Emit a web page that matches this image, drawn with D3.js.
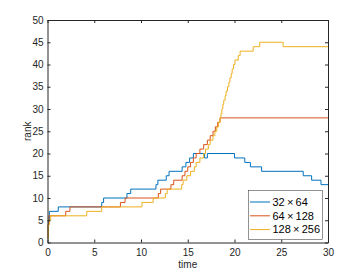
<!DOCTYPE html>
<html>
<head>
<meta charset="utf-8">
<script src="https://cdn.jsdelivr.net/npm/d3@7"></script>
<style>
  body { margin: 0; background: #fff; }
  svg { display: block; font-family: "Liberation Sans", Arial, sans-serif; }
</style>
</head>
<body>
<div id="chart"></div>
<script>
// step points [time, rank]
let blue32 = [[0,1],[0.1,5],[0.2,7],[1.15,8],[5.8,9],[6.0,10],[8.5,11],[8.9,12],[11.6,13],[11.8,14],[12.7,15],[13.0,16],
  [14.4,17],[14.8,18],[15.2,19],[15.6,20],[16.8,19],[17.1,20],[20.0,19],[21.1,18],[21.7,17],[22.9,16],[27.35,15],
  [28.25,14],[29.25,13],[30,13]];
let red64 = [[0,1],[0.05,4],[0.15,6],[1.95,7],[2.4,8],[7.8,9],[8.3,10],[11.85,11],[12.1,12],[13.2,13],[13.5,14],
  [14.4,15],[14.7,16],[15.0,17],[15.3,18],[15.6,19],[15.9,20],[16.3,21],[16.7,22],[17.1,23],[17.4,24],[17.7,25],
  [17.95,26],[18.2,27],[18.45,28],[30,28]];
let yellow128 = [[0,1],[0.1,4],[0.2,5],[0.35,6],[4.2,7],[5.8,8],[10.1,9],[11.3,10],[12.6,11],[12.8,12],[14.35,13],
  [14.5,14],[14.9,15],[15.3,16],[15.7,17],[15.9,18],[16.3,19],[16.7,20],[16.9,21],[17.2,22],[17.4,23],[17.7,24],
  [17.9,25],[18.1,26],[18.3,27],[18.45,28],[18.55,29],[18.65,30],[18.75,31],[18.85,32],[19.0,33],[19.1,34],
  [19.25,35],[19.4,36],[19.5,37],[19.65,38],[19.75,39],[19.9,40],[20.05,41],[20.4,42],[20.6,43],[22.0,44],
  [22.7,45],[25.2,44],[30,44]];
let seriesNames = ['32\u2009\u00d7\u200964', '64\u2009\u00d7\u2009128', '128\u2009\u00d7\u2009256'];
let seriesColors = ['#0072BD', '#D95319', '#EDB120'];
let xTicks = [0, 5, 10, 15, 20, 25, 30];
let yTicks = [0, 5, 10, 15, 20, 25, 30, 35, 40, 45, 50];

let width = 363, height = 273;
let margin = {top: 20, right: 35, bottom: 30.5, left: 47.5};
let axisColor = '#262626';

let svg = d3.select('#chart').append('svg')
  .attr('width', width)
  .attr('height', height);

let xScale = d3.scaleLinear().domain([0, 30]).range([margin.left, width - margin.right]);
let yScale = d3.scaleLinear().domain([0, 50]).range([height - margin.bottom, margin.top]);

// lines
let line = d3.line()
  .x(d => xScale(d[0]))
  .y(d => yScale(d[1]))
  .curve(d3.curveStepAfter);

let allSeries = [blue32, red64, yellow128];
allSeries.forEach(function(s, i) {
  svg.append('path')
    .datum(s)
    .attr('fill', 'none')
    .attr('stroke', seriesColors[i])
    .attr('stroke-width', 1)
    .attr('d', line);
});

// axes, ticks inward on all four sides (box on)
let x0 = xScale(0), x1 = xScale(30), y0 = yScale(0), y1 = yScale(50);
svg.append('g').attr('transform', `translate(0,${y0})`)
  .call(d3.axisBottom(xScale).tickValues(xTicks).tickSizeInner(-3).tickSizeOuter(0).tickPadding(6))
  .call(g => g.select('.domain').attr('stroke', axisColor))
  .call(g => g.selectAll('line').attr('stroke', axisColor))
  .call(g => g.selectAll('text').attr('fill', axisColor).attr('font-size', 10));
svg.append('g').attr('transform', `translate(${x0},0)`)
  .call(d3.axisLeft(yScale).tickValues(yTicks).tickSizeInner(-3).tickSizeOuter(0).tickPadding(4))
  .call(g => g.select('.domain').attr('stroke', axisColor))
  .call(g => g.selectAll('line').attr('stroke', axisColor))
  .call(g => g.selectAll('text').attr('fill', axisColor).attr('font-size', 10));
svg.append('g').attr('transform', `translate(0,${y1})`)
  .call(d3.axisTop(xScale).tickValues(xTicks).tickSizeInner(-3).tickSizeOuter(0).tickFormat(''))
  .call(g => g.select('.domain').attr('stroke', axisColor))
  .call(g => g.selectAll('line').attr('stroke', axisColor));
svg.append('g').attr('transform', `translate(${x1},0)`)
  .call(d3.axisRight(yScale).tickValues(yTicks).tickSizeInner(-3).tickSizeOuter(0).tickFormat(''))
  .call(g => g.select('.domain').attr('stroke', axisColor))
  .call(g => g.selectAll('line').attr('stroke', axisColor));

// axis labels
svg.append('text')
  .attr('x', (x0 + x1) / 2)
  .attr('y', 268)
  .attr('text-anchor', 'middle')
  .attr('font-size', 10)
  .attr('fill', axisColor)
  .text('time');
svg.append('text')
  .attr('transform', `translate(30.5,${(y0 + y1) / 2}) rotate(-90)`)
  .attr('text-anchor', 'middle')
  .attr('font-size', 10)
  .attr('fill', axisColor)
  .text('rank');

// legend
let legend = svg.append('g').attr('transform', 'translate(248.5,190.5)');
legend.append('rect')
  .attr('width', 74)
  .attr('height', 49)
  .attr('fill', '#fff')
  .attr('stroke', axisColor)
  .attr('stroke-width', 0.5);
seriesNames.forEach(function(name, i) {
  let yy = 11.5 + i * 13.8;
  legend.append('line')
    .attr('x1', 1.5).attr('x2', 21.5)
    .attr('y1', yy).attr('y2', yy)
    .attr('stroke', seriesColors[i])
    .attr('stroke-width', 1);
  legend.append('text')
    .attr('x', 24)
    .attr('y', yy)
    .attr('dy', '0.35em')
    .attr('font-size', 11)
    .attr('fill', '#000')
    .text(name);
});
</script>
</body>
</html>
